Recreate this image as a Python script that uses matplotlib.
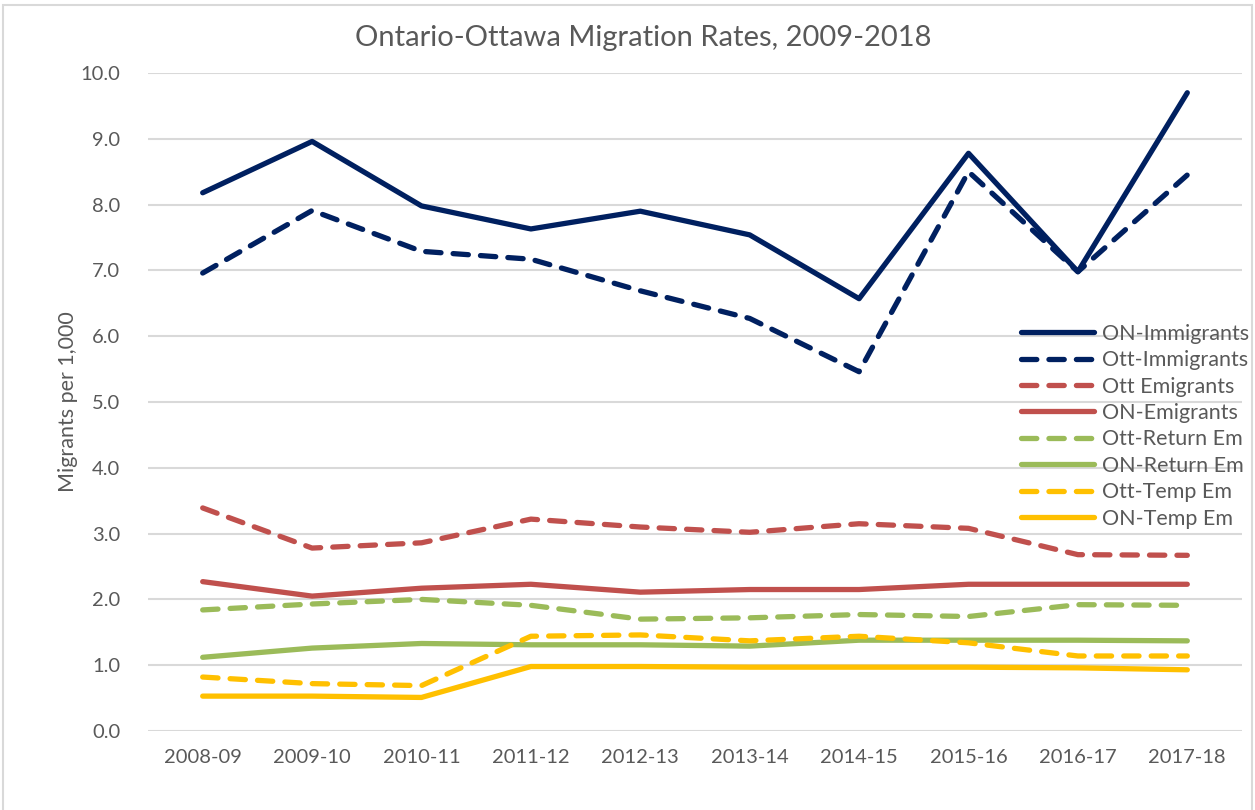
"""
Ontario-Ottawa migration rates, 2009-2018 (rates per 1,000).
Writes out.png.
"""
import matplotlib
matplotlib.use("Agg")
import matplotlib.pyplot as plt
from matplotlib.patches import Rectangle
from matplotlib.ticker import FormatStrFormatter

# ---------------------------------------------------------------------------
YEARS = ["2008-09", "2009-10", "2010-11", "2011-12", "2012-13",
         "2013-14", "2014-15", "2015-16", "2016-17", "2017-18"]

on_immigrants  = [8.18, 8.96, 7.98, 7.63, 7.90, 7.54, 6.57, 8.78, 6.98, 9.70]
ott_immigrants = [6.96, 7.91, 7.29, 7.17, 6.69, 6.27, 5.46, 8.50, 6.98, 8.45]
ott_emigrants  = [3.39, 2.78, 2.86, 3.22, 3.10, 3.02, 3.15, 3.08, 2.68, 2.67]
on_emigrants   = [2.27, 2.05, 2.17, 2.23, 2.11, 2.15, 2.15, 2.23, 2.23, 2.23]
ott_return_em  = [1.84, 1.93, 2.00, 1.91, 1.70, 1.72, 1.77, 1.74, 1.92, 1.91]
on_return_em   = [1.12, 1.26, 1.33, 1.31, 1.31, 1.29, 1.38, 1.38, 1.38, 1.37]
ott_temp_em    = [0.82, 0.72, 0.69, 1.44, 1.46, 1.37, 1.44, 1.34, 1.14, 1.14]
on_temp_em     = [0.53, 0.53, 0.51, 0.98, 0.98, 0.97, 0.97, 0.97, 0.96, 0.93]

Y_TICKS = [0, 1, 2, 3, 4, 5, 6, 7, 8, 9, 10]

NAVY, RED, GREEN, GOLD = "#002060", "#C0504D", "#9BBB59", "#FFC000"
TEXT = "#595959"
GRID = "#D9D9D9"

# (label, values, colour, dashed) in legend order
SERIES = [
    ("ON-Immigrants",  on_immigrants,  NAVY,  False),
    ("Ott-Immigrants", ott_immigrants, NAVY,  True),
    ("Ott Emigrants",  ott_emigrants,  RED,   True),
    ("ON-Emigrants",   on_emigrants,   RED,   False),
    ("Ott-Return Em",  ott_return_em,  GREEN, True),
    ("ON-Return Em",   on_return_em,   GREEN, False),
    ("Ott-Temp Em",    ott_temp_em,    GOLD,  True),
    ("ON-Temp Em",     on_temp_em,     GOLD,  False),
]

plt.rcParams["font.family"] = ["Lato", "DejaVu Sans"]

# ---------------------------------------------------------------------------
W, H = 1255, 810
fig = plt.figure(figsize=(W / 100, H / 100), dpi=100, facecolor="white")

# chart-area border (light grey, Excel style)
fig.patches.append(Rectangle((3 / W, -0.01), (W - 6) / W, 1 - 5 / H + 0.01,
                             transform=fig.transFigure, fill=False,
                             edgecolor=GRID, linewidth=1.5))

ax = fig.add_axes([148 / W, (H - 731) / H, (1242 - 148) / W, (731 - 73) / H])
ax.set_facecolor("none")

x = list(range(len(YEARS)))
lw = 3.8
for label, vals, col, dashed in SERIES:
    ls = (0, (2.9, 2.3)) if dashed else "-"
    ax.plot(x, vals, color=col, lw=lw, ls=ls, label=label,
            solid_capstyle="round", dash_capstyle="round",
            solid_joinstyle="round", zorder=3)

ax.set_xlim(-0.5, len(YEARS) - 0.5)
ax.set_ylim(0, 10)
ax.set_yticks(Y_TICKS)
ax.yaxis.set_major_formatter(FormatStrFormatter("%.1f"))
ax.set_xticks(x)
ax.set_xticklabels(YEARS)
ax.grid(axis="y", color=GRID, lw=1.5, zorder=0)
ax.set_axisbelow(True)
for s in ax.spines.values():
    s.set_visible(False)
ax.tick_params(length=0, labelsize=14.5, labelcolor=TEXT)
ax.tick_params(axis="x", pad=13)
ax.tick_params(axis="y", pad=20)

ax.set_ylabel("Migrants per 1,000", color=TEXT, fontsize=15.5, labelpad=2)

fig.text(643 / W, 1 - 38 / H, "Ontario-Ottawa Migration Rates, 2009-2018",
         ha="center", va="center", color=TEXT, fontsize=21)

leg = ax.legend(loc="upper left", bbox_to_anchor=((1012 - 148) / (1242 - 148),
                (731 - 315) / (731 - 73)),
                frameon=False, fontsize=15.5, handlelength=3.4,
                handletextpad=0.4, labelspacing=0.3, borderaxespad=0)
for t in leg.get_texts():
    t.set_color(TEXT)

fig.savefig("out.png", dpi=100, facecolor="white")
